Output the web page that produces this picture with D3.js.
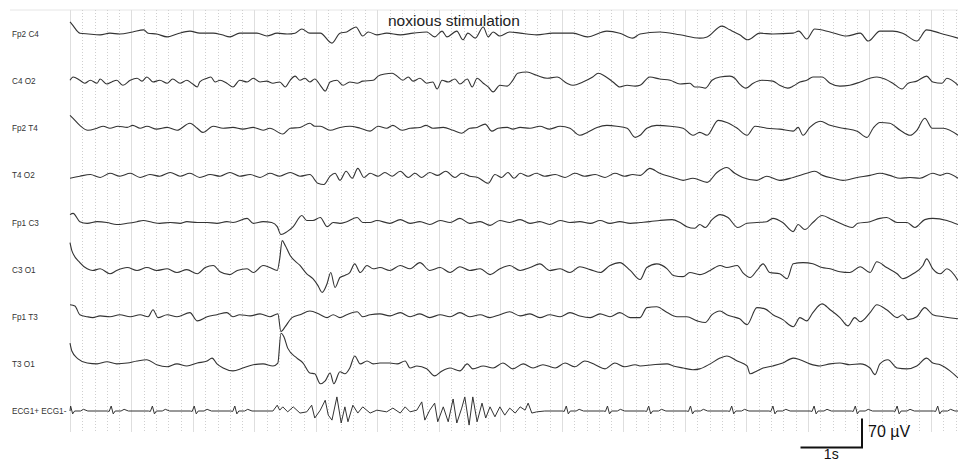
<!DOCTYPE html>
<html><head><meta charset="utf-8">
<script src="https://cdn.jsdelivr.net/npm/d3@7/dist/d3.min.js"></script>
<style>html,body{margin:0;padding:0;background:#fff;}svg{display:block;}</style>
</head><body>
<svg id="chart" width="958" height="462"></svg>
<script>
// ---- data: [time (s), amplitude (µV)] ----
const channelLabels = ["Fp2 C4","C4 O2","Fp2 T4","T4 O2","Fp1 C3","C3 O1","Fp1 T3","T3 O1","ECG1+ ECG1-"];
const annotation = "noxious stimulation";
const scaleBarAmp = 70;   // µV
const scaleBarTime = 1;   // s
const recordLength = 14.44; // s

const fp2c4 = [[0,29],[0.03,24],[0.13,5],[0.16,2],[0.3,0],[0.49,-2],[0.65,2],[0.81,0],[1.02,5],[1.20,10],[1.27,2],[1.41,0],[1.58,-7],[1.74,0],[1.95,7],[2.11,2],[2.33,2],[2.47,-2],[2.60,-7],[2.76,2],[2.88,2],[3.04,2],[3.20,-5],[3.37,2],[3.53,0],[3.66,2],[3.77,12],[3.90,2],[4.07,2],[4.26,-22],[4.39,2],[4.50,5],[4.65,17],[4.76,-5],[4.85,5],[4.99,-2],[5.15,2],[5.37,-2],[5.58,2],[5.80,5],[5.93,-7],[6.05,7],[6.13,-7],[6.29,7],[6.39,-14],[6.47,2],[6.59,-10],[6.72,17],[6.80,-7],[6.88,5],[6.99,-5],[7.15,5],[7.32,2],[7.59,-2],[7.85,2],[8.18,2],[8.41,-7],[8.73,7],[8.94,2],[9.15,-10],[9.27,0],[9.59,5],[9.92,-2],[10.24,-10],[10.36,-7],[10.60,19],[10.73,10],[10.89,-2],[11.02,-14],[11.22,2],[11.43,0],[11.76,2],[11.85,7],[11.98,-12],[12.11,12],[12.36,5],[12.63,-5],[12.85,2],[12.98,-17],[13.17,7],[13.38,7],[13.54,2],[13.77,-17],[13.93,10],[14.15,2],[14.44,-10]];

const c4o2 = [[0,2],[0.05,10],[0.16,2],[0.24,-5],[0.33,2],[0.44,-5],[0.49,5],[0.60,-7],[0.68,-2],[0.76,2],[0.86,-10],[0.98,2],[1.09,7],[1.17,0],[1.25,10],[1.35,-2],[1.46,2],[1.58,-5],[1.67,5],[1.79,-5],[1.90,2],[1.98,-5],[2.07,-14],[2.11,-2],[2.23,7],[2.29,10],[2.36,-2],[2.44,2],[2.55,-5],[2.65,-14],[2.76,2],[2.88,-2],[2.98,7],[3.09,-2],[3.20,0],[3.30,-5],[3.41,-2],[3.50,-14],[3.58,2],[3.66,12],[3.74,2],[3.82,7],[3.90,-2],[3.98,5],[4.07,-10],[4.15,-24],[4.23,-2],[4.34,2],[4.44,-10],[4.55,-2],[4.67,-5],[4.76,0],[4.93,2],[5.01,12],[5.12,17],[5.24,19],[5.32,12],[5.41,2],[5.50,10],[5.58,0],[5.69,7],[5.80,-5],[5.90,-2],[5.97,-19],[6.05,2],[6.15,-2],[6.26,5],[6.34,-7],[6.46,5],[6.54,-14],[6.62,7],[6.72,-5],[6.80,-14],[6.88,-26],[6.99,-10],[7.11,-12],[7.20,2],[7.28,19],[7.43,22],[7.59,14],[7.76,7],[7.92,10],[8.08,-5],[8.18,-10],[8.34,-2],[8.50,10],[8.59,19],[8.70,12],[8.83,-2],[8.94,-14],[9.06,-10],[9.19,-12],[9.27,-10],[9.43,10],[9.59,5],[9.76,2],[9.92,-7],[10.08,-5],[10.16,-14],[10.24,-14],[10.33,-17],[10.44,2],[10.57,10],[10.73,12],[10.81,7],[10.89,-7],[10.99,-17],[11.11,-5],[11.25,2],[11.43,0],[11.54,-10],[11.67,-17],[11.76,-12],[11.87,-2],[11.98,2],[12.08,10],[12.23,10],[12.36,-5],[12.52,-12],[12.68,-10],[12.85,-2],[13.01,7],[13.12,10],[13.25,5],[13.38,-5],[13.53,-19],[13.63,-5],[13.77,0],[13.93,12],[14.03,-2],[14.18,-5],[14.26,7],[14.44,-10]];

const fp2t4 = [[0,31],[0.05,24],[0.16,7],[0.29,-5],[0.44,0],[0.54,5],[0.65,0],[0.78,5],[0.93,2],[1.02,7],[1.14,0],[1.25,5],[1.41,-2],[1.58,2],[1.74,-5],[1.95,12],[2.07,0],[2.16,-10],[2.33,5],[2.49,0],[2.65,2],[2.81,-2],[2.98,2],[3.14,-5],[3.25,0],[3.46,-14],[3.58,0],[3.74,2],[3.90,12],[3.98,5],[4.07,5],[4.23,-5],[4.39,2],[4.55,5],[4.72,0],[4.88,-7],[5.01,5],[5.15,0],[5.25,7],[5.40,-5],[5.53,0],[5.69,2],[5.79,7],[5.90,0],[6.07,2],[6.23,-5],[6.37,-12],[6.50,0],[6.62,2],[6.75,10],[6.86,-7],[6.96,0],[7.11,2],[7.20,-2],[7.32,2],[7.48,0],[7.64,5],[7.80,-2],[7.97,5],[8.13,0],[8.29,-17],[8.41,-10],[8.57,2],[8.73,7],[8.89,5],[9.06,0],[9.19,-22],[9.27,-17],[9.38,0],[9.54,7],[9.76,5],[9.97,0],[10.13,-17],[10.24,-10],[10.36,-17],[10.54,19],[10.68,14],[10.85,0],[11.01,-17],[11.14,5],[11.33,0],[11.54,-2],[11.76,-7],[11.84,2],[11.92,-17],[12.03,2],[12.20,17],[12.36,7],[12.57,0],[12.80,-7],[12.96,-22],[13.06,0],[13.17,14],[13.33,12],[13.50,-5],[13.66,-17],[13.77,-5],[13.90,24],[14.02,0],[14.20,0],[14.44,-17]];

const t4o2 = [[0,-7],[0.16,-2],[0.33,2],[0.49,-5],[0.65,5],[0.81,-2],[0.98,5],[1.14,-5],[1.30,2],[1.46,-2],[1.63,7],[1.79,-2],[1.95,5],[2.11,-5],[2.28,2],[2.44,-2],[2.60,7],[2.76,-2],[2.93,2],[3.09,-5],[3.25,5],[3.41,-2],[3.58,7],[3.74,-2],[3.90,2],[4.03,-19],[4.13,-22],[4.23,-2],[4.31,5],[4.39,-12],[4.49,10],[4.59,-7],[4.68,17],[4.78,-5],[4.88,5],[5.01,-2],[5.12,7],[5.24,-2],[5.37,10],[5.50,-5],[5.61,5],[5.72,-5],[5.85,7],[5.98,0],[6.11,10],[6.26,-5],[6.37,5],[6.50,-2],[6.63,-5],[6.80,-19],[6.91,2],[7.02,-5],[7.12,7],[7.22,-7],[7.32,5],[7.45,-2],[7.58,5],[7.72,-2],[7.89,2],[8.05,-5],[8.21,5],[8.37,-2],[8.54,2],[8.70,-5],[8.86,5],[9.02,-2],[9.15,2],[9.27,0],[9.43,17],[9.59,5],[9.81,-5],[9.97,-12],[10.13,-7],[10.36,-17],[10.52,7],[10.68,19],[10.81,5],[10.94,-5],[11.17,-12],[11.33,-2],[11.54,-12],[11.76,-5],[11.98,5],[12.11,10],[12.24,0],[12.41,-7],[12.57,-12],[12.80,-5],[13.01,0],[13.17,5],[13.33,0],[13.50,-7],[13.66,-5],[13.82,-7],[14.03,5],[14.15,0],[14.26,5],[14.44,-7]];

const fp1c3 = [[0,19],[0.05,22],[0.16,2],[0.28,-2],[0.44,2],[0.60,0],[0.76,-5],[0.93,-2],[1.09,2],[1.19,5],[1.35,0],[1.46,-2],[1.63,0],[1.79,-2],[1.90,2],[2.07,0],[2.23,0],[2.39,-2],[2.55,2],[2.65,0],[2.88,10],[2.98,-2],[3.14,2],[3.28,0],[3.37,-10],[3.43,-29],[3.53,-22],[3.63,-10],[3.77,17],[3.85,5],[3.95,5],[4.07,12],[4.18,-10],[4.28,0],[4.39,-2],[4.50,2],[4.67,12],[4.76,0],[4.88,0],[4.99,5],[5.20,-2],[5.37,7],[5.53,-2],[5.69,2],[5.85,-5],[6.02,5],[6.18,0],[6.34,10],[6.50,-2],[6.67,2],[6.83,-7],[6.99,5],[7.15,0],[7.32,7],[7.48,-2],[7.64,2],[7.80,-5],[7.97,5],[8.13,0],[8.29,2],[8.46,-2],[8.62,5],[8.78,-2],[8.94,2],[9.11,-2],[9.27,0],[9.43,2],[9.59,5],[9.79,7],[9.92,0],[10.03,-10],[10.16,-14],[10.24,-5],[10.33,-12],[10.44,7],[10.57,19],[10.70,12],[10.86,-12],[11.01,-2],[11.17,0],[11.33,2],[11.43,10],[11.59,0],[11.76,-22],[11.84,-5],[11.95,-17],[12.08,0],[12.23,17],[12.39,7],[12.57,-5],[12.72,-12],[12.81,-2],[13.01,2],[13.17,10],[13.28,12],[13.45,0],[13.61,0],[13.74,-12],[13.90,7],[14.03,10],[14.26,5],[14.44,-5]];

const c3o1 = [[0,65],[0.03,46],[0.16,17],[0.28,2],[0.37,-2],[0.49,2],[0.65,-10],[0.76,-2],[0.93,5],[1.09,-2],[1.25,5],[1.41,-2],[1.58,2],[1.74,-7],[1.90,0],[2.07,-10],[2.20,5],[2.33,10],[2.44,-5],[2.60,-12],[2.72,-2],[2.88,2],[2.98,-7],[3.14,10],[3.25,5],[3.37,-2],[3.41,26],[3.45,70],[3.50,58],[3.58,34],[3.74,10],[3.85,-10],[3.95,-22],[4.03,-38],[4.10,-55],[4.18,-34],[4.24,-7],[4.31,-43],[4.39,-19],[4.47,-14],[4.55,-7],[4.63,14],[4.72,-7],[4.83,10],[4.93,2],[5.04,5],[5.20,-2],[5.37,10],[5.53,2],[5.69,17],[5.85,-2],[6.02,5],[6.18,-7],[6.34,7],[6.50,-2],[6.67,2],[6.83,-12],[6.99,2],[7.15,10],[7.32,-2],[7.48,5],[7.64,14],[7.80,-2],[7.97,2],[8.13,-7],[8.29,7],[8.46,0],[8.62,-7],[8.78,10],[8.94,17],[9.11,-2],[9.27,-24],[9.38,5],[9.54,14],[9.71,2],[9.81,-14],[9.97,-17],[10.08,-7],[10.24,-12],[10.41,-2],[10.57,10],[10.68,5],[10.85,10],[10.94,-7],[11.06,-19],[11.17,-2],[11.27,14],[11.38,-7],[11.54,-10],[11.66,-22],[11.76,14],[11.92,17],[12.08,14],[12.23,5],[12.36,2],[12.52,-5],[12.68,-7],[12.85,7],[13.01,-7],[13.12,19],[13.28,5],[13.45,-10],[13.54,-22],[13.71,-10],[13.87,10],[13.93,26],[14.03,2],[14.15,-10],[14.26,2],[14.44,-26]];

const fp1t3 = [[0,29],[0.08,26],[0.16,5],[0.28,0],[0.37,-2],[0.49,2],[0.65,0],[0.81,5],[0.98,0],[1.14,5],[1.27,0],[1.35,17],[1.43,-2],[1.58,5],[1.74,0],[1.95,10],[2.07,-10],[2.23,0],[2.39,5],[2.55,10],[2.65,0],[2.76,5],[2.93,2],[3.09,7],[3.25,0],[3.38,7],[3.43,-36],[3.50,-24],[3.61,-2],[3.74,5],[3.90,14],[4.07,5],[4.18,-2],[4.28,5],[4.39,-2],[4.50,5],[4.67,12],[4.76,0],[4.88,5],[5.04,7],[5.20,2],[5.37,10],[5.53,0],[5.69,7],[5.85,-2],[6.02,5],[6.18,0],[6.34,10],[6.50,0],[6.67,5],[6.83,-2],[6.99,5],[7.15,12],[7.32,2],[7.48,7],[7.64,-2],[7.80,5],[7.97,0],[8.13,10],[8.29,2],[8.46,-2],[8.62,7],[8.78,0],[8.94,10],[9.11,-2],[9.27,-2],[9.38,22],[9.54,24],[9.71,10],[9.87,0],[10.03,0],[10.20,-10],[10.33,-14],[10.44,5],[10.57,14],[10.68,5],[10.78,0],[10.89,-5],[11.01,-19],[11.17,22],[11.30,19],[11.43,5],[11.59,-7],[11.76,-24],[11.87,-2],[11.98,-10],[12.08,10],[12.23,31],[12.36,17],[12.52,-2],[12.65,-22],[12.76,-2],[12.85,-12],[13.01,10],[13.12,29],[13.28,17],[13.45,-2],[13.54,5],[13.63,-7],[13.77,0],[13.90,22],[14.03,5],[14.20,0],[14.44,-5]];

const t3o1 = [[0,50],[0.03,31],[0.13,12],[0.28,2],[0.44,0],[0.60,5],[0.76,0],[0.93,2],[1.09,7],[1.25,10],[1.41,-2],[1.58,-7],[1.74,0],[1.90,-5],[2.07,2],[2.23,7],[2.31,14],[2.39,0],[2.49,-10],[2.65,-17],[2.81,-10],[2.98,-2],[3.14,0],[3.30,-5],[3.38,2],[3.43,74],[3.48,65],[3.54,38],[3.69,14],[3.79,2],[3.90,-22],[3.98,-24],[4.07,-48],[4.15,-41],[4.23,-22],[4.29,-48],[4.39,-19],[4.47,-24],[4.55,-10],[4.63,19],[4.72,0],[4.83,7],[4.93,0],[5.04,2],[5.20,2],[5.32,0],[5.45,7],[5.53,-10],[5.64,-5],[5.80,-12],[5.93,-29],[6.05,-17],[6.18,-10],[6.34,-17],[6.46,0],[6.55,-12],[6.72,-5],[6.88,-10],[7.04,2],[7.20,-12],[7.37,0],[7.53,-10],[7.69,-2],[7.89,-10],[8.05,2],[8.21,-7],[8.37,7],[8.54,-2],[8.70,-12],[8.86,2],[9.02,-7],[9.19,-2],[9.27,-5],[9.48,-2],[9.71,0],[9.81,-5],[9.97,-10],[10.13,-14],[10.24,-12],[10.41,0],[10.57,14],[10.68,19],[10.85,7],[11.01,-5],[11.06,-24],[11.17,-17],[11.27,-10],[11.43,-5],[11.59,2],[11.76,14],[11.87,10],[12.03,0],[12.20,-5],[12.36,0],[12.52,2],[12.68,-2],[12.85,0],[13.01,-10],[13.09,-26],[13.17,0],[13.30,10],[13.45,-10],[13.61,-12],[13.77,-5],[13.93,14],[14.03,2],[14.15,-2],[14.31,-17],[14.44,-34]];

// ECG: heartbeat times, one beat's waveform [offset s, µV], and the stimulation artefact segment
const ecgBeatTimes = [0.01,0.67,1.34,2.02,2.68,8.07,8.74,9.41,10.09,10.76,11.43,12.10,12.77,13.45,14.11];
const ecgBeatShape = [[-0.065,0],[-0.033,-1],[0,12],[0.033,-7],[0.065,0],[0.16,0],[0.21,4],[0.28,0]];
const ecgArtifact = [[3.30,0],[3.37,14],[3.41,2],[3.46,10],[3.54,-2],[3.63,10],[3.74,-5],[3.85,-2],[3.93,14],[3.98,-17],[4.07,2],[4.15,26],[4.20,-10],[4.26,-22],[4.34,34],[4.41,-29],[4.47,10],[4.52,-26],[4.60,14],[4.68,-5],[4.76,10],[4.88,-5],[4.99,2],[5.15,-2],[5.25,7],[5.37,-5],[5.45,10],[5.53,-2],[5.64,2],[5.72,22],[5.77,-22],[5.85,2],[5.93,19],[5.98,-26],[6.07,10],[6.15,-26],[6.23,29],[6.29,-29],[6.37,7],[6.42,34],[6.49,-34],[6.55,34],[6.62,-26],[6.70,19],[6.76,-17],[6.83,10],[6.91,-14],[6.99,10],[7.07,-10],[7.15,7],[7.24,-5],[7.32,10],[7.40,2],[7.45,19],[7.51,-5],[7.59,-2],[7.72,0]];

// ---- drawing ----
const svg = d3.select("#chart");
const W = 958, H = 462;
const FONT = "'Liberation Sans', Arial, Helvetica, sans-serif";

const x = d3.scaleLinear().domain([0, recordLength]).range([70, 958]);
const row = d3.scalePoint().domain(channelLabels).range([34, 411]);
const amp = d3.scaleLinear().domain([0, scaleBarAmp]).range([0, -29]);

const gridTop = 10, gridBottom = 432;

// top rule
svg.append("line").attr("x1", 10).attr("x2", W).attr("y1", gridTop).attr("y2", gridTop)
  .attr("stroke", "#e6e6e6").attr("stroke-width", 1);

// minor grid (0.2 s, dotted)
const minorTicks = d3.range(0, recordLength, 0.2).filter(t => Math.abs(t - Math.round(t)) > 1e-6);
svg.append("g").selectAll("line").data(minorTicks).join("line")
  .attr("x1", d => Math.round(x(d)) + 0.5).attr("x2", d => Math.round(x(d)) + 0.5)
  .attr("y1", gridTop).attr("y2", gridBottom)
  .attr("stroke", "#cfcfcf").attr("stroke-width", 1).attr("stroke-dasharray", "1,2");

// major grid (1 s, solid)
const majorTicks = d3.range(0, Math.floor(recordLength) + 1);
svg.append("g").selectAll("line").data(majorTicks).join("line")
  .attr("x1", d => Math.round(x(d)) + 0.5).attr("x2", d => Math.round(x(d)) + 0.5)
  .attr("y1", gridTop).attr("y2", gridBottom)
  .attr("stroke", "#dedede").attr("stroke-width", 1);

// traces
const eegData = [fp2c4, c4o2, fp2t4, t4o2, fp1c3, c3o1, fp1t3, t3o1];

const ecg = [[0, 0]];
ecgBeatTimes.forEach(b => ecgBeatShape.forEach(s => {
  const t = b + s[0];
  if (t > 0 && t <= recordLength) ecg.push([t, s[1]]);
}));
ecgArtifact.forEach(p => ecg.push(p));
ecg.push([recordLength, 0]);
ecg.sort((a, b) => a[0] - b[0]);

const traces = svg.append("g");
eegData.forEach((data, i) => {
  const y0 = row(channelLabels[i]);
  const line = d3.line().x(d => x(d[0])).y(d => y0 + amp(d[1])).curve(d3.curveMonotoneX);
  traces.append("path").attr("d", line(data))
    .attr("fill", "none").attr("stroke", "#333").attr("stroke-width", 1.1)
    .attr("stroke-linejoin", "round");
});
{
  const y0 = row(channelLabels[8]);
  const line = d3.line().x(d => x(d[0])).y(d => y0 + amp(d[1]));
  traces.append("path").attr("d", line(ecg))
    .attr("fill", "none").attr("stroke", "#333").attr("stroke-width", 1)
    .attr("stroke-linejoin", "round");
}

// channel labels
svg.append("g").selectAll("text").data(channelLabels).join("text")
  .attr("x", 12).attr("y", d => row(d) + 3)
  .attr("font-family", FONT).attr("font-size", 8.2).attr("fill", "#333")
  .text(d => d);

// annotation
svg.append("text").attr("x", 388).attr("y", 26)
  .attr("font-family", FONT).attr("font-size", 15.5).attr("fill", "#222")
  .text(annotation);

// scale bar
const barX = 862, barBottom = 447.5;
const barLeft = barX - (x(scaleBarTime) - x(0));
svg.append("path")
  .attr("d", `M${barLeft},${barBottom}H${barX}V${barBottom + amp(scaleBarAmp)}`)
  .attr("fill", "none").attr("stroke", "#111").attr("stroke-width", 2);
svg.append("text").attr("x", barX + 6).attr("y", 437)
  .attr("font-family", FONT).attr("font-size", 16).attr("fill", "#111")
  .text(scaleBarAmp + " µV");
svg.append("text").attr("x", (barLeft + barX) / 2).attr("y", 459).attr("text-anchor", "middle")
  .attr("font-family", FONT).attr("font-size", 14).attr("fill", "#111")
  .text(scaleBarTime + "s");
</script>
</body></html>
